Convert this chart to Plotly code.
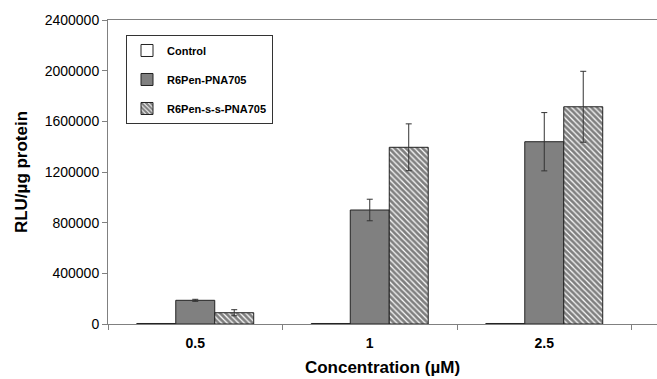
import plotly.graph_objects as go

categories = ["0.5", "1", "2.5"]
series_names = ["Control", "R6Pen-PNA705", "R6Pen-s-s-PNA705"]
control_vals = [4000, 4000, 4000]
r6pen_vals = [187000, 900000, 1439000]
r6pen_err = [8000, 85000, 230000]
ss_vals = [89000, 1395000, 1715000]
ss_err = [24000, 185000, 280000]
y_ticks = [0, 400000, 800000, 1200000, 1600000, 2000000, 2400000]

FONT = "Arial, Liberation Sans, sans-serif"

fig = go.Figure()
fig.add_trace(go.Bar(
    x=categories, y=control_vals, name=series_names[0], legendgroup="a",
    marker=dict(color="white", line=dict(color="#222", width=1)),
))
fig.add_trace(go.Bar(
    x=categories, y=r6pen_vals, name=series_names[1], legendgroup="b",
    marker=dict(color="#808080", line=dict(color="#222", width=1)),
    error_y=dict(type="data", array=r6pen_err, color="#333", thickness=1, width=3),
))
fig.add_trace(go.Bar(
    x=categories, y=ss_vals, name=series_names[2], legendgroup="c",
    marker=dict(color="white", line=dict(color="#222", width=1),
                pattern=dict(shape="\\", fgcolor="black", bgcolor="white", size=4, solidity=0.7)),
    error_y=dict(type="data", array=ss_err, color="#333", thickness=1, width=3),
))

fig.update_layout(
    width=657, height=379,
    margin=dict(l=108, r=0, t=20, b=55),
    paper_bgcolor="white", plot_bgcolor="white",
    barmode="group", bargap=0.33, bargroupgap=0,
    font=dict(family=FONT, color="black"),
    showlegend=True,
    legend=dict(
        x=0.0328, y=0.9507, xanchor="left", yanchor="top",
        bordercolor="#333", borderwidth=1, bgcolor="white",
        font=dict(family=FONT, size=11, color="black", weight="bold"),
        tracegroupgap=10, traceorder="grouped",
        entrywidth=103, entrywidthmode="pixels",
    ),
    xaxis=dict(
        type="category", range=[-0.5, 2.646],
        showline=True, linecolor="#808080", linewidth=1, mirror=True,
        ticks="outside", ticklen=5, tickcolor="#808080", tickson="boundaries",
        ticklabelstandoff=6,
        showgrid=False,
        tickfont=dict(family=FONT, size=14, weight="bold"),
        title=dict(text="Concentration (µM)", font=dict(family=FONT, size=17, weight="bold"), standoff=11),
    ),
    yaxis=dict(
        range=[0, 2400000], tickvals=y_ticks, ticktext=[str(v) for v in y_ticks],
        showline=True, linecolor="#808080", linewidth=1,
        ticks="outside", ticklen=5, tickcolor="#808080",
        showgrid=False, zeroline=False,
        tickfont=dict(family=FONT, size=14),
        title=dict(text="RLU/µg protein", font=dict(family=FONT, size=17, weight="bold"), standoff=12),
    ),
)

fig.write_html("out.html", config={"displayModeBar": False},
               post_script="document.body.style.margin='0';")
